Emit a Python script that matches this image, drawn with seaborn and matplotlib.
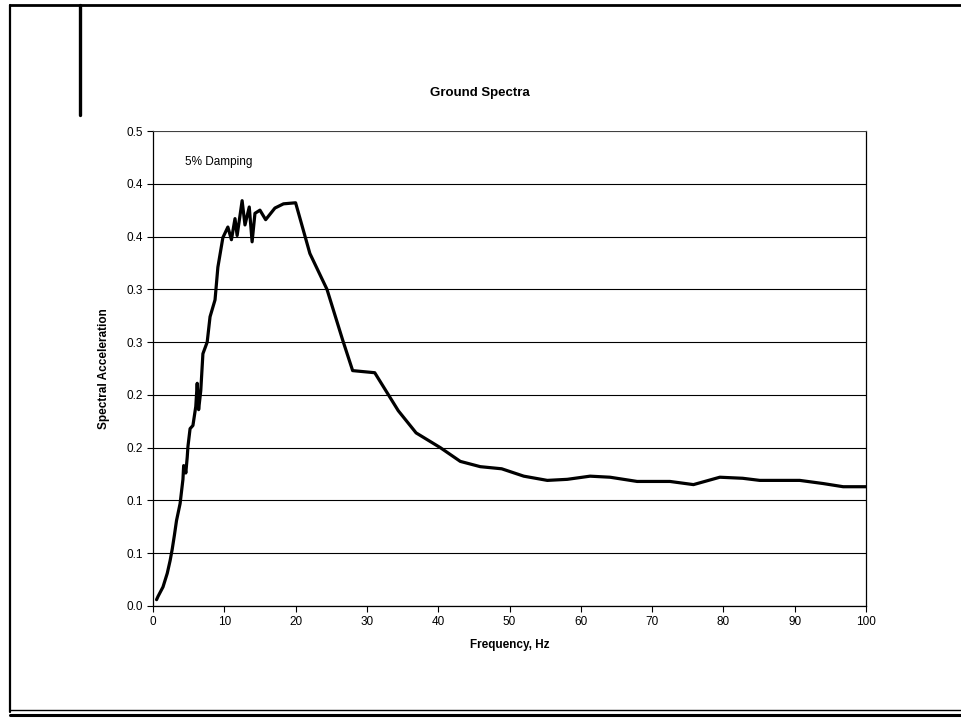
import numpy as np
import pandas as pd
import matplotlib
matplotlib.use("Agg")
import matplotlib.pyplot as plt
from matplotlib.lines import Line2D
import seaborn as sns

# ---- data ----
freq = [0.5, 0.7, 1.4, 2.0, 2.4, 2.7, 3.0, 3.3, 3.8, 4.2, 4.3, 4.5, 4.6, 4.8, 4.9, 5.2, 5.6,
        6.0, 6.2, 6.4, 6.7, 7.0, 7.6, 8.0, 8.7, 9.1, 9.8, 10.5, 11.0, 11.5, 11.8, 12.5, 12.9,
        13.5, 13.9, 14.3, 15.0, 15.8, 17.1, 18.3, 20.0, 22.0, 24.4, 26.6, 28.0, 31.1, 34.4,
        36.9, 40.3, 43.1, 45.9, 48.9, 52.0, 55.3, 58.1, 61.3, 64.1, 67.9, 72.5, 75.8, 79.5,
        82.7, 85.1, 90.7, 94.0, 96.8, 100.0]
accel = [0.006, 0.009, 0.018, 0.031, 0.043, 0.054, 0.067, 0.081, 0.097, 0.120, 0.133, 0.131,
         0.126, 0.141, 0.151, 0.168, 0.171, 0.189, 0.211, 0.186, 0.204, 0.239, 0.250, 0.274,
         0.290, 0.321, 0.349, 0.359, 0.347, 0.367, 0.351, 0.384, 0.361, 0.378, 0.345, 0.372,
         0.375, 0.366, 0.377, 0.381, 0.382, 0.334, 0.300, 0.252, 0.223, 0.221, 0.185, 0.164,
         0.150, 0.137, 0.132, 0.130, 0.123, 0.119, 0.120, 0.123, 0.122, 0.118, 0.118, 0.115,
         0.122, 0.121, 0.119, 0.119, 0.116, 0.113, 0.113]

x_ticks = [0, 10, 20, 30, 40, 50, 60, 70, 80, 90, 100]
x_tick_labels = ["0", "10", "20", "30", "40", "50", "60", "70", "80", "90", "100"]
y_ticks = [0.0, 0.05, 0.1, 0.15, 0.2, 0.25, 0.3, 0.35, 0.4, 0.45]
y_tick_labels = ["0.0", "0.1", "0.1", "0.2", "0.2", "0.3", "0.3", "0.4", "0.4", "0.5"]

df = pd.DataFrame({"Frequency": freq, "Accel": accel})

sns.set_theme(style="white")
plt.rcParams["font.family"] = ["Liberation Sans", "DejaVu Sans"]

fig = plt.figure(figsize=(9.61, 7.18), dpi=100)
ax = fig.add_axes([153 / 961, 1 - 606 / 718, (866 - 153) / 961, (606 - 131) / 718])

sns.lineplot(data=df, x="Frequency", y="Accel", ax=ax, color="black", linewidth=2.3,
             sort=False, estimator=None)

ax.set_xlim(0, 100)
ax.set_ylim(0, 0.45)
ax.set_xticks(x_ticks)
ax.set_xticklabels(x_tick_labels, fontsize=8.5)
ax.set_yticks(y_ticks)
ax.set_yticklabels(y_tick_labels, fontsize=8.5)
ax.yaxis.grid(True, color="black", linewidth=0.8)
ax.xaxis.grid(False)
ax.tick_params(axis="both", direction="out", length=4, width=0.8, color="black",
               labelcolor="black", pad=3, bottom=True, left=True)
for side in ["left", "right", "bottom"]:
    ax.spines[side].set_visible(True)
    ax.spines[side].set_color("black")
    ax.spines[side].set_linewidth(0.9)
ax.spines["top"].set_visible(True)
ax.spines["top"].set_color("#444444")
ax.spines["top"].set_linewidth(0.7)
ax.spines["top"].set_linestyle((0, (4, 1)))

ax.set_xlabel("Frequency, Hz", fontsize=8.5, fontweight="bold", color="black", labelpad=8)
ax.set_ylabel("Spectral Acceleration", fontsize=8.5, fontweight="bold", color="black", labelpad=12)

ax.text(0.045, 0.935, "5% Damping", transform=ax.transAxes, fontsize=8.5, va="center",
        ha="left", color="black")

fig.text(480 / 961, 1 - 93 / 718, "Ground Spectra", fontsize=9.5, fontweight="bold",
         ha="center", va="center", color="black")

# page frame from the scanned document
fig.add_artist(Line2D([10 / 961, 10 / 961], [1 - 5 / 718, 1 - 712 / 718], color="black",
                      linewidth=1.6, transform=fig.transFigure))
fig.add_artist(Line2D([10 / 961, 1.0], [1 - 5 / 718, 1 - 5 / 718], color="black",
                      linewidth=2.0, transform=fig.transFigure))
fig.add_artist(Line2D([10 / 961, 1.0], [1 - 710 / 718, 1 - 710 / 718], color="black",
                      linewidth=1.0, transform=fig.transFigure))
fig.add_artist(Line2D([10 / 961, 1.0], [1 - 714.5 / 718, 1 - 714.5 / 718], color="black",
                      linewidth=2.2, transform=fig.transFigure))
fig.add_artist(Line2D([80 / 961, 80 / 961], [1 - 5 / 718, 1 - 115 / 718], color="black",
                      linewidth=2.4, transform=fig.transFigure))

fig.savefig("out.png", dpi=100, facecolor="white")
